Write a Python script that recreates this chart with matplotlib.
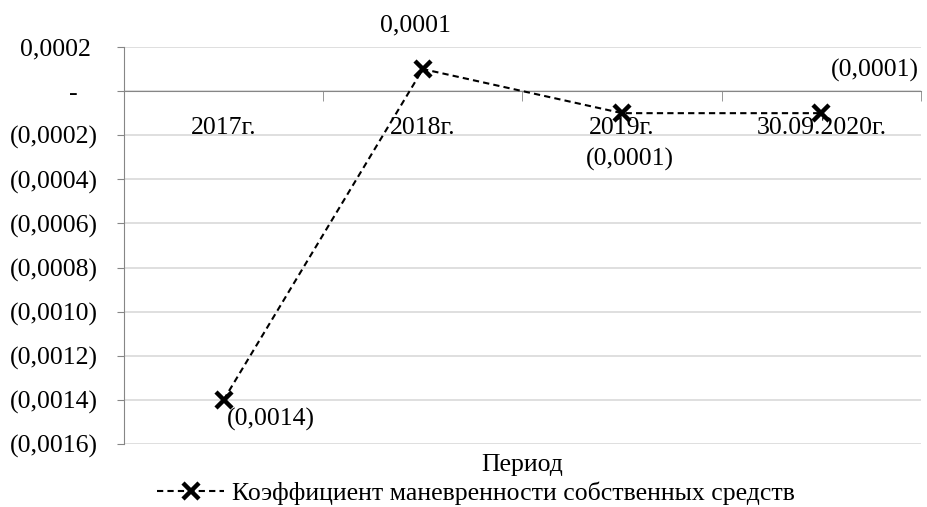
import matplotlib.pyplot as plt
from matplotlib.ticker import FuncFormatter, FixedLocator

periods = ["2017г.", "2018г.", "2019г.", "30.09.2020г."]
values = [-0.0014, 0.0001, -0.0001, -0.0001]
value_labels = ["(0,0014)", "0,0001", "(0,0001)", "(0,0001)"]
# label offsets in pixels (dx, dy) relative to each point
label_offsets = [(3, -20), (-7, 44), (8, -46), (54, 43)]
label_align = ["left", "center", "center", "center"]
series_name = "Коэффициент маневренности собственных средств"

plt.rcParams['font.family'] = 'Liberation Serif'
fs = 18.5

fig = plt.figure(figsize=(9.28, 5.07), dpi=100)
ax = fig.add_axes([124 / 928, 1 - 444 / 507, (921 - 124) / 928, (444 - 47) / 507])

x = list(range(len(periods)))
ax.plot(x, values, color='black', linestyle=(0, (3, 2)), linewidth=1.5,
        marker='x', markersize=12, markeredgewidth=3.2, label=series_name, zorder=5)

for xi, v, lab, (dx, dy), ha in zip(x, values, value_labels, label_offsets, label_align):
    ax.annotate(lab, (xi, v), xytext=(dx, dy), textcoords='offset pixels',
                ha=ha, va='center', fontsize=fs)

ax.set_xlim(-0.5, len(periods) - 0.5)
ax.set_ylim(-0.0016, 0.0002)

yticks = [0.0002 - 0.0002 * i for i in range(10)]
ax.yaxis.set_major_locator(FixedLocator(yticks))


def fmt(v, pos):
    # accounting style like Excel
    if abs(v) < 1e-12:
        return "-   "
    s = f"{abs(v):.4f}".replace(".", ",")
    return f"({s})" if v < 0 else s + " "


ax.yaxis.set_major_formatter(FuncFormatter(fmt))
ax.grid(axis='y', color='#d9d9d9', linewidth=1.2)
ax.set_axisbelow(True)

for side in ['top', 'right']:
    ax.spines[side].set_visible(False)
ax.spines['left'].set_color('#868686')
ax.spines['bottom'].set_position(('data', 0))
ax.spines['bottom'].set_color('#868686')
ax.spines['bottom'].set_zorder(3)

ax.set_xticks(x)
ax.set_xticklabels(periods)
ax.set_xticks([i + 0.5 for i in range(-1, len(periods))], minor=True)
ax.tick_params(axis='x', which='major', length=0, pad=18.5, labelsize=fs)
ax.tick_params(axis='x', which='minor', length=7, color='#868686', direction='out')
ax.tick_params(axis='y', length=5, color='#868686', pad=14, labelsize=fs)

fig.text((124 + 921) / 2 / 928, 1 - 465 / 507, "Период", ha='center', va='center', fontsize=fs)

fig.legend(loc='center', bbox_to_anchor=(476 / 928, 1 - 493 / 507), frameon=False,
           fontsize=fs, handlelength=2.6, handletextpad=0.3, borderaxespad=0)

fig.savefig("out.png", dpi=100)
